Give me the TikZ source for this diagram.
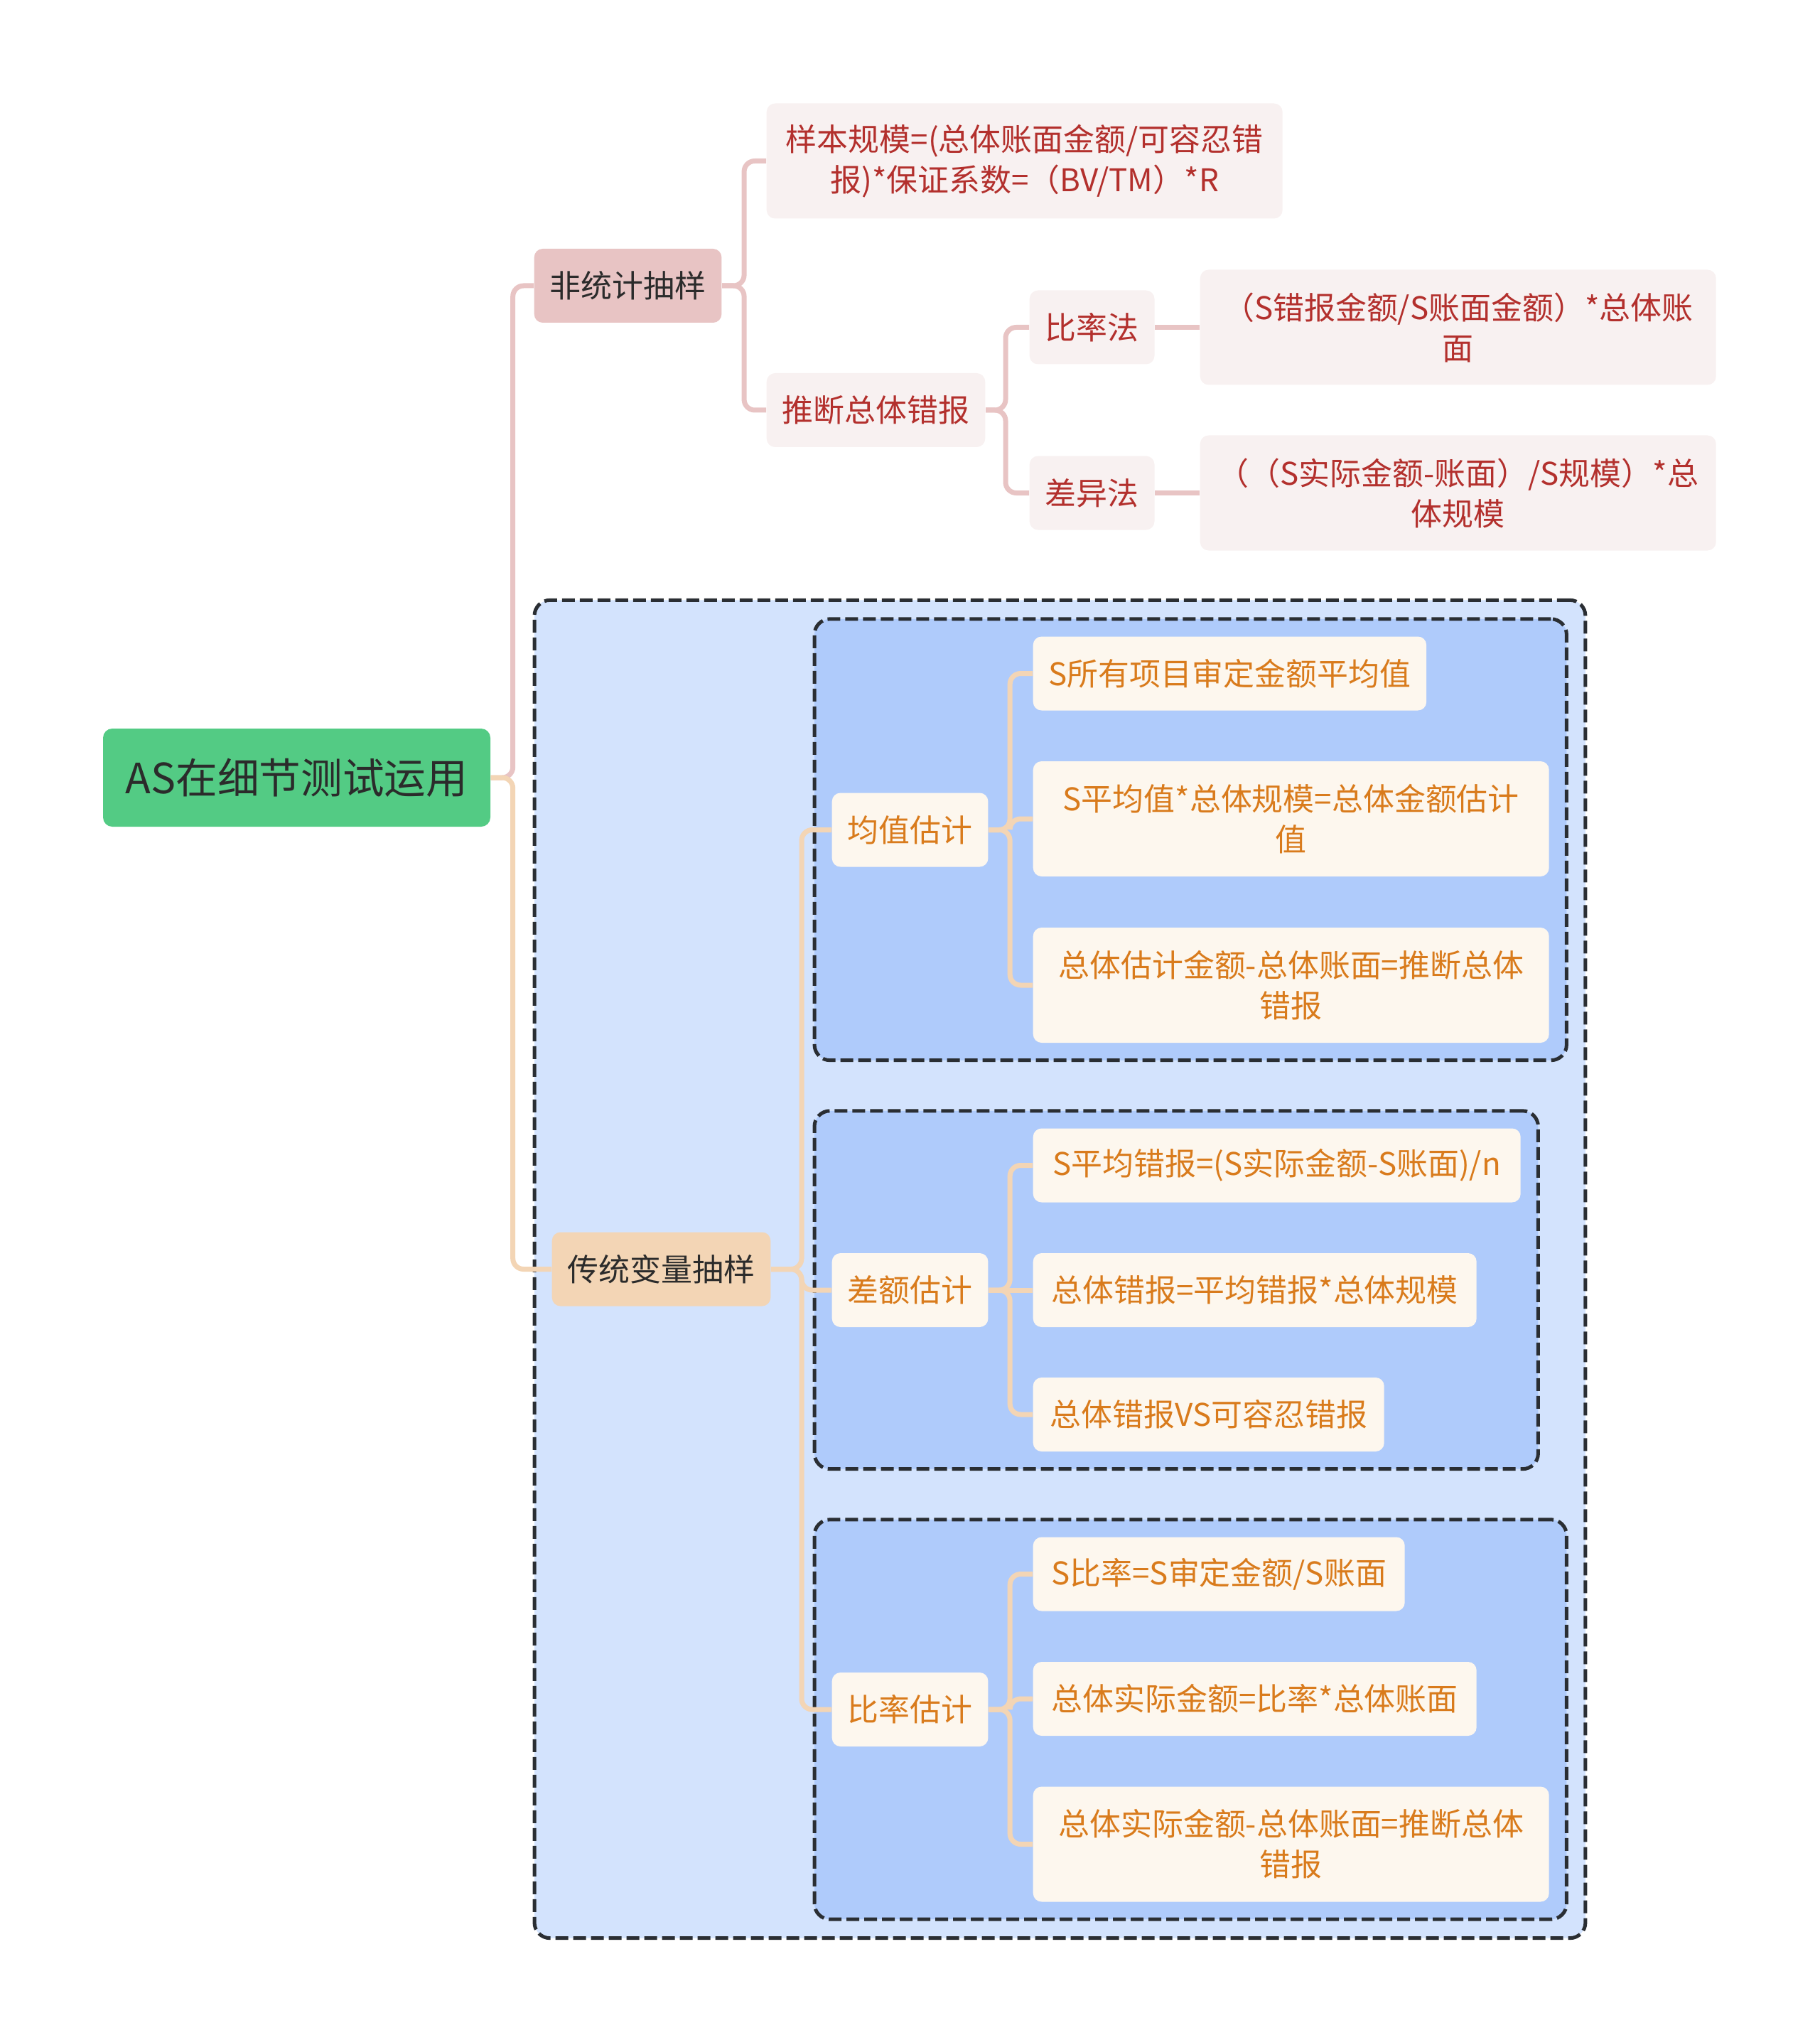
\documentclass[tikz,border=0pt]{standalone}
\usepackage{fontspec}
\setmainfont{Noto Sans CJK SC}
\usepackage{xcolor}
\usepackage{tikz}
\usetikzlibrary{positioning, fit, backgrounds}

\definecolor{rootgreen}{HTML}{53CB84}
\definecolor{inkdark}{HTML}{2B2B2B}
\definecolor{pinkmid}{HTML}{E8C4C4}
\definecolor{pinkpale}{HTML}{F8F1F1}
\definecolor{pinkink}{HTML}{B3302D}
\definecolor{peachmid}{HTML}{F3D5B5}
\definecolor{creampale}{HTML}{FDF7EE}
\definecolor{orangeink}{HTML}{D97B1C}
\definecolor{blueouter}{HTML}{D3E3FD}
\definecolor{blueinner}{HTML}{AFCBFB}
\definecolor{frameline}{HTML}{2A2E33}

\pgfdeclarelayer{outerback}
\pgfdeclarelayer{innerback}
\pgfsetlayers{outerback,innerback,main}

\newcommand{\nodefont}{\fontsize{12.5}{16.2}\selectfont}

\begin{document}
\begin{tikzpicture}[
  rootbox/.style={rounded corners=0.13cm, fill=rootgreen, text=inkdark, minimum width=5.45cm, minimum height=1.38cm, font=\fontsize{16.7}{20}\selectfont},
  topic/.style={rounded corners=0.12cm, fill=#1, text=inkdark, minimum height=1.04cm, inner xsep=0.22cm, anchor=west, font=\nodefont},
  leaf/.style={rounded corners=0.12cm, fill=#1, minimum height=1.04cm, inner xsep=0.22cm, anchor=west, font=\nodefont},
  pinkleaf/.style={leaf=pinkpale, text=pinkink},
  orangeleaf/.style={leaf=creampale, text=orangeink},
  wrap/.style={text width=6.9cm, inner xsep=0.18cm, align=center, minimum height=1.62cm},
  link/.style={line width=0.07cm, rounded corners=0.15cm, draw=#1},
  frame/.style={draw=frameline, line width=0.05cm, dash pattern=on 0.18cm off 0.07cm, rounded corners=0.22cm, fill=#1, inner sep=0.24cm}
]

\useasboundingbox (0,0) rectangle (25.6,-28.7);

% ── Root ──
\node[rootbox] (root) at (4.175, -10.94) {AS在细节测试运用};

% ── Non-statistical sampling ──
\node[topic=pinkmid] (nonstat) at (7.51, -4.02) {非统计抽样};
\node[pinkleaf, wrap] (sample) at (10.78, -2.265) {样本规模=(总体账面金额/可容忍错\\报)*保证系数=（BV/TM）*R};
\node[pinkleaf] (infer) at (10.78, -5.77) {推断总体错报};
\node[pinkleaf] (ratio) at (14.48, -4.605) {比率法};
\node[pinkleaf] (diff) at (14.48, -6.935) {差异法};
\node[pinkleaf, wrap] (ratioform) at (16.88, -4.605) {（S错报金额/S账面金额）*总体账\\面};
\node[pinkleaf, wrap] (diffform) at (16.88, -6.935) {（（S实际金额-账面）/S规模）*总\\体规模};

% ── Classical variables sampling ──
\node[topic=peachmid] (trad) at (7.76, -17.855) {传统变量抽样};
\node[orangeleaf] (mean) at (11.70, -11.675) {均值估计};
\node[orangeleaf] (diffest) at (11.70, -18.15) {差额估计};
\node[orangeleaf] (ratioest) at (11.70, -24.05) {比率估计};

% mean-per-unit
\node[orangeleaf] (meanA) at (14.53, -9.475) {S所有项目审定金额平均值};
\node[orangeleaf, wrap] (meanB) at (14.53, -11.52) {S平均值*总体规模=总体金额估计\\值};
\node[orangeleaf, wrap] (meanC) at (14.53, -13.86) {总体估计金额-总体账面=推断总体\\错报};

% difference
\node[orangeleaf, minimum width=6.86cm] (diffA) at (14.53, -16.395) {S平均错报=(S实际金额-S账面)/n};
\node[orangeleaf, minimum width=6.24cm] (diffB) at (14.53, -18.15) {总体错报=平均错报*总体规模};
\node[orangeleaf, minimum width=4.94cm] (diffC) at (14.53, -19.90) {总体错报VS可容忍错报};

% ratio
\node[orangeleaf, minimum width=5.23cm] (ratA) at (14.53, -22.145) {S比率=S审定金额/S账面};
\node[orangeleaf, minimum width=6.24cm] (ratB) at (14.53, -23.90) {总体实际金额=比率*总体账面};
\node[orangeleaf, wrap] (ratC) at (14.53, -25.945) {总体实际金额-总体账面=推断总体\\错报};

% ═══ FRAMES ═══
\begin{pgfonlayer}{innerback}
\node[frame=blueinner, fit=(mean)(meanA)(meanB)(meanC)] (meanframe) {};
\node[frame=blueinner, fit=(diffest)(diffA)(diffB)(diffC)] (diffframe) {};
\node[frame=blueinner, fit=(ratioest)(ratA)(ratB)(ratC)] (ratframe) {};
\end{pgfonlayer}
\begin{pgfonlayer}{outerback}
\node[frame=blueouter, fit=(trad)(meanframe)(diffframe)(ratframe)] (tradframe) {};
\end{pgfonlayer}

% ═══ LINKS ═══
% Root → branches
\draw[link=pinkmid] (root.east) -- ++(0.31,0) |- (nonstat.west);
\draw[link=peachmid] (root.east) -- ++(0.31,0) |- (trad.west);

% Non-statistical branch
\draw[link=pinkmid] (nonstat.east) -- ++(0.31,0) |- (sample.west);
\draw[link=pinkmid] (nonstat.east) -- ++(0.31,0) |- (infer.west);
\draw[link=pinkmid] (infer.east) -- ++(0.28,0) |- (ratio.west);
\draw[link=pinkmid] (infer.east) -- ++(0.28,0) |- (diff.west);
\draw[link=pinkmid] (ratio) -- (ratioform);
\draw[link=pinkmid] (diff) -- (diffform);

% Classical branch
\draw[link=peachmid] (trad.east) -- ++(0.43,0) |- (mean.west);
\draw[link=peachmid] (trad.east) -- ++(0.43,0) |- (diffest.west);
\draw[link=peachmid] (trad.east) -- ++(0.43,0) |- (ratioest.west);

\draw[link=peachmid] (mean.east) -- ++(0.30,0) |- (meanA.west);
\draw[link=peachmid] (mean.east) -- ++(0.30,0) |- (meanB.west);
\draw[link=peachmid] (mean.east) -- ++(0.30,0) |- (meanC.west);

\draw[link=peachmid] (diffest.east) -- ++(0.30,0) |- (diffA.west);
\draw[link=peachmid] (diffest) -- (diffB);
\draw[link=peachmid] (diffest.east) -- ++(0.30,0) |- (diffC.west);

\draw[link=peachmid] (ratioest.east) -- ++(0.30,0) |- (ratA.west);
\draw[link=peachmid] (ratioest.east) -- ++(0.30,0) |- (ratB.west);
\draw[link=peachmid] (ratioest.east) -- ++(0.30,0) |- (ratC.west);

\end{tikzpicture}
\end{document}
